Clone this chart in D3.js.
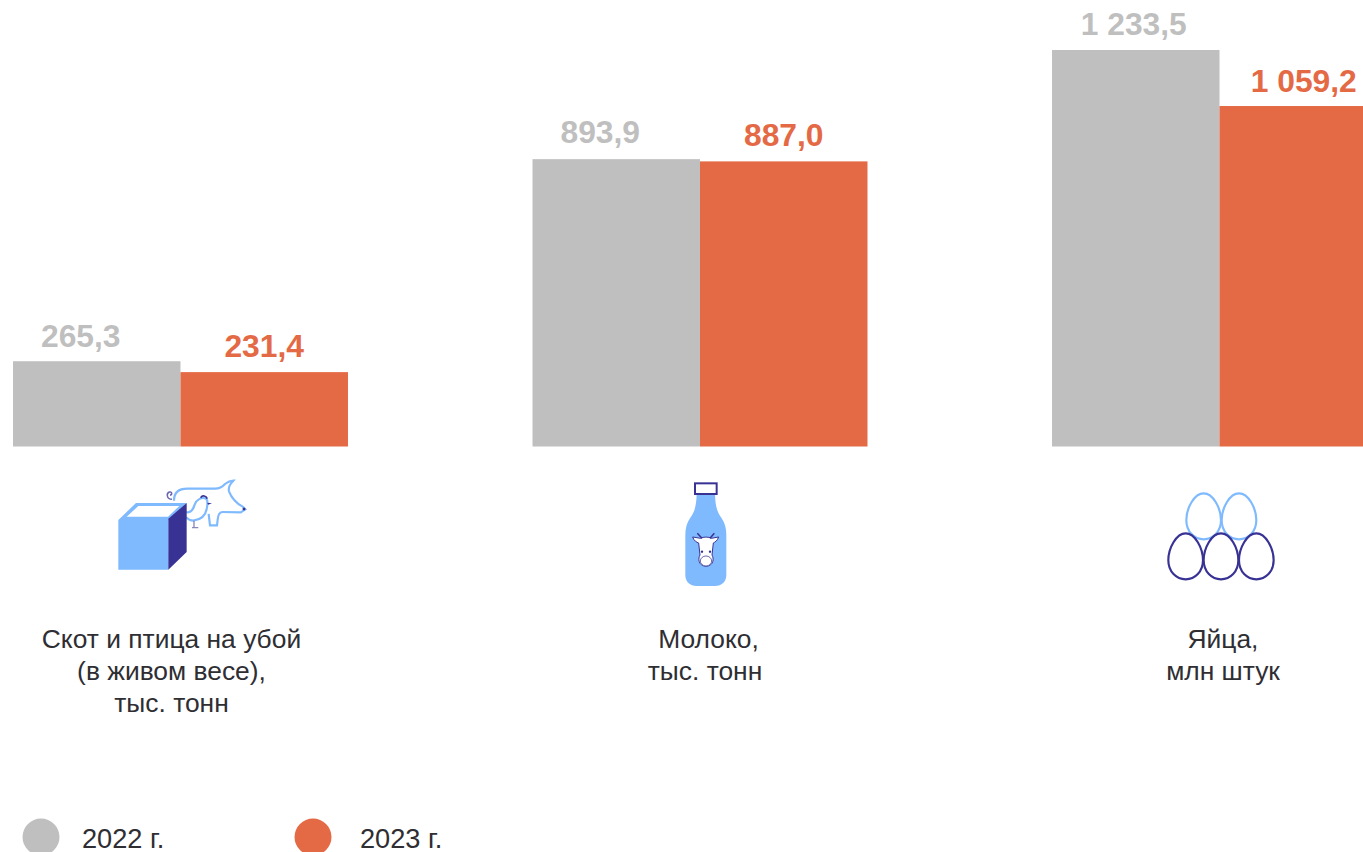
<!DOCTYPE html>
<html><head><meta charset="utf-8">
<script src="https://cdn.jsdelivr.net/npm/d3@7"></script>
<style>html,body{margin:0;padding:0;background:#fff;overflow:hidden}svg{display:block}text{font-family:"Liberation Sans",Arial,sans-serif}</style>
</head><body><svg id="c" width="1363" height="852"></svg>
<script>
const categories = ["livestock","milk","eggs"];
const categoryLabels = [
  ["Скот и птица на убой","(в живом весе),","тыс. тонн"],
  ["Молоко,","тыс. тонн"],
  ["Яйца,","млн штук"]
];
const seriesNames = ["2022 г.","2023 г."];
const values2022 = [265.3, 893.9, 1233.5];
const values2023 = [231.4, 887.0, 1059.2];
const colors = ["#bfbfbf","#e46945"];
const LIGHT="#7fbaff", DARK="#383294";

const fmt = v => {
  const s = v.toFixed(1).replace(".",",");
  const [i,d] = s.split(",");
  return i.replace(/\B(?=(\d{3})+$)/g," ")+","+d;
};

const svg = d3.select("#c");
const baseY = 446.5;
const y = d3.scaleLinear().domain([0,1233.5]).range([baseY,50]);
const x0 = d3.scaleBand().domain(categories).range([13,1387]).paddingInner(0.3552);
const x1 = d3.scaleBand().domain([0,1]).range([0,x0.bandwidth()]);

// label nudges per category/series, as placed in the source
const labelDx = [[-16,0],[-16,0],[-2,0.5]];
const labelDy = [[-14,-15.5],[-16,-15],[-15,-14]];

const rows = categories.map((c,i)=>({c,i,vals:[values2022[i],values2023[i]]}));
const g = svg.selectAll("g.cat").data(rows).join("g").attr("class","cat")
  .attr("transform",d=>`translate(${x0(d.c)},0)`);
g.selectAll("rect").data(d=>d.vals).join("rect")
  .attr("x",(d,i)=>x1(i)).attr("width",x1.bandwidth())
  .attr("y",d=>y(d)).attr("height",d=>baseY-y(d))
  .attr("fill",(d,i)=>colors[i]);
g.each(function(row){
  d3.select(this).selectAll("text.val").data(row.vals).join("text").attr("class","val")
    .attr("x",(d,i)=>x1(i)+x1.bandwidth()/2+labelDx[row.i][i]).attr("y",(d,i)=>y(d)+labelDy[row.i][i])
    .attr("text-anchor","middle").attr("font-size",31.8).attr("font-weight","bold")
    .attr("fill",(d,i)=>colors[i]).text(d=>fmt(d));
});

// Category captions
const capCx=[[171.5,171.5,171.5],[708.5,705],[1223,1223]];
svg.selectAll("g.cap").data(categoryLabels).join("g").attr("class","cap")
  .each(function(lines,i){
    d3.select(this).selectAll("text").data(lines).join("text")
      .attr("x",(d,k)=>capCx[i][k]).attr("y",(d,k)=>648+k*32)
      .attr("text-anchor","middle").attr("font-size",26.4).attr("fill","#2e2e33").text(d=>d);
  });

// Legend
const legendX=[41,313], legendTextX=[82,360];
seriesNames.forEach((n,i)=>{
  svg.append("circle").attr("cx",legendX[i]).attr("cy",837).attr("r",18.5).attr("fill",colors[i]);
  svg.append("text").attr("x",legendTextX[i]).attr("y",848).attr("font-size",27.2).attr("fill","#2e2e33").text(n);
});

// Icons: drawn in zoomed-crop units (3x)
const pigG = svg.append("g").attr("transform","translate(100,470) scale(0.3333)").attr("fill","none");
pigG.append("path").attr("d","M222 92C222 68 235 56 262 56L345 56C360 56 368 50 375 42C385 34 392 32 400 32C390 42 384 52 387 64C395 85 410 100 428 110L436 118L422 127L368 126C358 126 354 135 353 150L351 166L330 166L326 132")
  .attr("stroke",LIGHT).attr("stroke-width",6.5);
pigG.append("path").attr("d","M216 88C200 88 198 70 208 66C216 64 218 74 210 76").attr("stroke","#6a66b0").attr("stroke-width",4.5);
pigG.append("path").attr("d","M258 126C272 130 280 118 284 104C290 88 306 80 318 86C326 92 322 104 320 118C316 138 300 150 280 152C268 152 262 146 258 142")
  .attr("stroke",LIGHT).attr("stroke-width",6.5).attr("fill","#fff");
pigG.append("path").attr("d","M302 83C308 74 318 78 322 86").attr("stroke",DARK).attr("stroke-width",5);
pigG.append("path").attr("d","M322 98L336 100L324 104Z").attr("fill",DARK);
pigG.append("path").attr("d","M282 152L282 172M276 173L295 173").attr("stroke","#8a86c0").attr("stroke-width",4);
pigG.append("circle").attr("cx",432).attr("cy",117).attr("r",4.5).attr("fill",DARK);
pigG.append("path").attr("d","M55 150L108 99L260 99L205 150L205 299L55 299Z").attr("fill",LIGHT);
pigG.append("path").attr("d","M80 140L115 108L238 108L204 140Z").attr("fill","#fff");
pigG.append("path").attr("d","M205 146L260 99L260 246L205 299Z").attr("fill",DARK);

const milk = svg.append("g").attr("transform","translate(670,475) scale(0.3333)");
milk.append("path").attr("d","M80 58L135 58C136 90 140 110 155 130C165 145 169 160 169 180L169 300C169 320 155 333 135 333L80 333C60 333 46 320 46 300L46 180C46 160 50 145 60 130C75 110 79 90 80 58Z").attr("fill",LIGHT);
milk.append("rect").attr("x",75).attr("y",25).attr("width",65).attr("height",32).attr("fill","#fff").attr("stroke",DARK).attr("stroke-width",6);
milk.append("path").attr("d","M92 190C100 185 116 185 124 190L146 186C142 198 134 202 130 204L126 240C132 250 132 272 108 274C84 272 84 250 90 240L86 204C80 202 72 198 68 186Z").attr("fill","#fff").attr("stroke",DARK).attr("stroke-width",3);
milk.append("path").attr("d","M96 190L82 175M120 190L133 175").attr("stroke",DARK).attr("stroke-width",4.5);
milk.append("circle").attr("cx",96).attr("cy",230).attr("r",3.5).attr("fill",DARK);
milk.append("circle").attr("cx",120).attr("cy",230).attr("r",3.5).attr("fill",DARK);
milk.append("ellipse").attr("cx",108).attr("cy",258).attr("rx",17).attr("ry",15).attr("fill","#fff").attr("stroke","#6a66b0").attr("stroke-width",3);

const eggPath = "M0 -69C28 -69 52 -25 52 12C52 46 28 69 0 69C-28 69 -52 46 -52 12C-52 -25 -28 -69 0 -69Z";
const eggs = svg.append("g").attr("transform","translate(1155,485) scale(0.3333)").attr("fill","none");
[[146,94,LIGHT],[252,94,LIGHT],[92,214,DARK],[198,214,DARK],[304,214,DARK]].forEach(e=>{
  eggs.append("path").attr("d",eggPath).attr("transform",`translate(${e[0]},${e[1]})`).attr("stroke",e[2]).attr("stroke-width",6.5);
});
</script></body></html>
